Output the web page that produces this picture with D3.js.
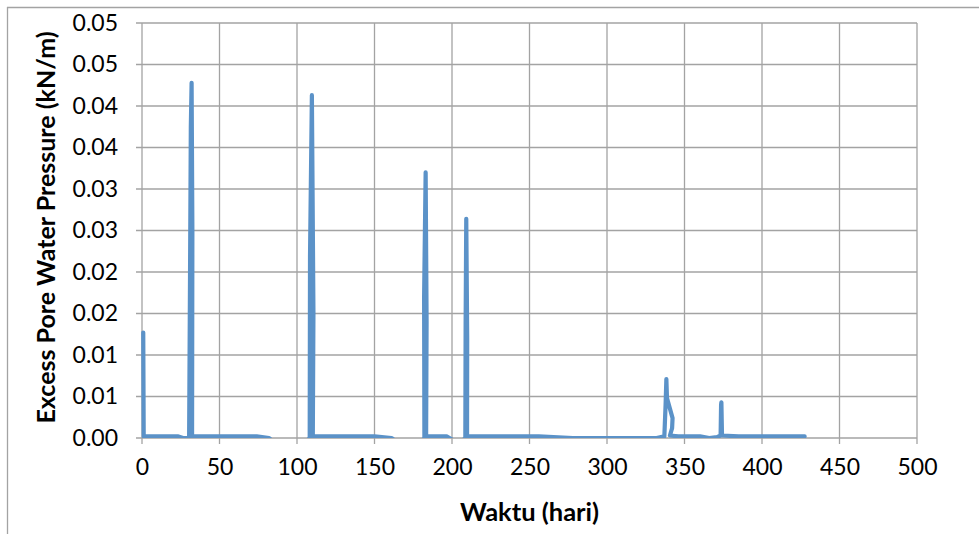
<!DOCTYPE html>
<html>
<head>
<meta charset="utf-8">
<script src="https://cdn.jsdelivr.net/npm/d3@7/dist/d3.min.js"></script>
<style>
  html, body { margin: 0; padding: 0; background: #fff; }
  svg { display: block; }
  text { font-family: Lato, "Open Sans", sans-serif; fill: #000; }
</style>
</head>
<body>
<svg id="chart" width="979" height="534"></svg>
<script>
// ---- data ----
const days = [0.8, 1.1, 12, 23, 26.5, 30.4, 31.0, 31.5, 32.0, 32.5, 32.3, 45, 60, 74, 82, 88, 100, 106,
  108.2, 108.4, 109.6, 110.6, 110.2, 130, 150, 161, 168, 178, 182.2, 182.0, 183.0, 183.6, 183.3, 192, 196.5,
  200, 204, 208.6, 208.8, 209.2, 209.8, 209.7, 235, 256, 278, 305, 332, 337, 337.8, 338.3, 338.7, 340.5,
  342.3, 342.0, 340.6, 346, 360, 366, 371, 373.3, 373.6, 373.8, 374.2, 385, 427.5];
const pressure = [0.0127, 0.0002, 0.0002, 0.0002, 0.0000, 0.0000, 0.020, 0.0375, 0.0428, 0.025, 0.0002,
  0.0002, 0.0002, 0.0002, 0.0, -0.001, -0.001, -0.0004, 0.0, 0.022, 0.0413, 0.015, 0.0002, 0.0002, 0.0002,
  0.0, -0.001, -0.001, 0.0, 0.017, 0.032, 0.014, 0.0002, 0.0002, 0.0002, -0.0002, -0.0008, 0.0, 0.014,
  0.0264, 0.012, 0.0002, 0.0002, 0.0002, 0.0, 0.0, 0.0, 0.0002, 0.004, 0.0071, 0.0048, 0.0036,
  0.0024, 0.0012, 0.0003, 0.0002, 0.0002, 0.0, 0.0001, 0.0003, 0.0040, 0.0043, 0.0003, 0.0002, 0.0002];
const xTicks = [0, 50, 100, 150, 200, 250, 300, 350, 400, 450, 500];
const yTicks = [0, 0.005, 0.01, 0.015, 0.02, 0.025, 0.03, 0.035, 0.04, 0.045, 0.05];
const yTickLabels = ["0.00", "0.01", "0.01", "0.02", "0.02", "0.03", "0.03", "0.04", "0.04", "0.05", "0.05"];
const xTitle = "Waktu (hari)";
const yTitle = "Excess Pore Water Pressure (kN/m)";

// ---- layout ----
const W = 979, H = 534;
const plot = { left: 142, right: 917, top: 23, bottom: 438 };
const gridColor = "#a3a3a3";
const lineColor = "#5b92c8";

const svg = d3.select("#chart");

// chart area border (top and left edges visible)
svg.append("line").attr("x1", 7).attr("x2", W).attr("y1", 7.5).attr("y2", 7.5)
  .attr("stroke", gridColor).attr("stroke-width", 1.3);
svg.append("line").attr("x1", 7.5).attr("x2", 7.5).attr("y1", 7).attr("y2", H)
  .attr("stroke", gridColor).attr("stroke-width", 1.3);

const x = d3.scaleLinear().domain([0, 500]).range([plot.left, plot.right]);
const y = d3.scaleLinear().domain([0, 0.05]).range([plot.bottom, plot.top]);

// gridlines
const g = svg.append("g");
g.selectAll("line.vg").data(xTicks).join("line").attr("class", "vg")
  .attr("x1", d => x(d)).attr("x2", d => x(d))
  .attr("y1", plot.top).attr("y2", plot.bottom + 6)
  .attr("stroke", gridColor).attr("stroke-width", 1.3);
g.selectAll("line.hg").data(yTicks).join("line").attr("class", "hg")
  .attr("x1", plot.left - 6).attr("x2", plot.right)
  .attr("y1", d => y(d)).attr("y2", d => y(d))
  .attr("stroke", gridColor).attr("stroke-width", 1.3);

// axes labels via d3 axes
const xAxis = d3.axisBottom(x).tickValues(xTicks).tickSize(6).tickPadding(15).tickFormat(d3.format("d"));
const yAxis = d3.axisLeft(y).tickValues(yTicks).tickSize(6).tickPadding(18)
  .tickFormat((d, i) => yTickLabels[i]);

const gx = svg.append("g").attr("transform", `translate(0,${plot.bottom})`).call(xAxis);
const gy = svg.append("g").attr("transform", `translate(${plot.left},0)`).call(yAxis);
[gx, gy].forEach(a => {
  a.select(".domain").remove();
  a.selectAll(".tick line").remove();
  a.selectAll("text").style("font-size", "23px").style("font-family", "Lato, 'Open Sans', sans-serif").attr("fill", "#000");
});

// titles
svg.append("text").attr("x", (plot.left + plot.right) / 2).attr("y", 521)
  .attr("text-anchor", "middle").style("font-size", "25.5px").style("font-weight", "bold").text(xTitle);
svg.append("text").attr("transform", `translate(55,${(plot.top + plot.bottom) / 2 - 3}) rotate(-90)`)
  .attr("text-anchor", "middle").style("font-size", "25px").style("font-weight", "bold").text(yTitle);

// clip to plot area
svg.append("clipPath").attr("id", "plotclip").append("rect")
  .attr("x", plot.left - 10).attr("y", plot.top - 10)
  .attr("width", plot.right - plot.left + 20).attr("height", plot.bottom - plot.top + 10);

const pts = days.map((d, i) => [d, pressure[i]]);
const line = d3.line().x(d => x(d[0])).y(d => y(d[1])).curve(d3.curveLinear);

svg.append("path").attr("clip-path", "url(#plotclip)")
  .attr("d", line(pts))
  .attr("fill", "none").attr("stroke", lineColor).attr("stroke-width", 4.2)
  .attr("stroke-linejoin", "round").attr("stroke-linecap", "round");
</script>
</body>
</html>
